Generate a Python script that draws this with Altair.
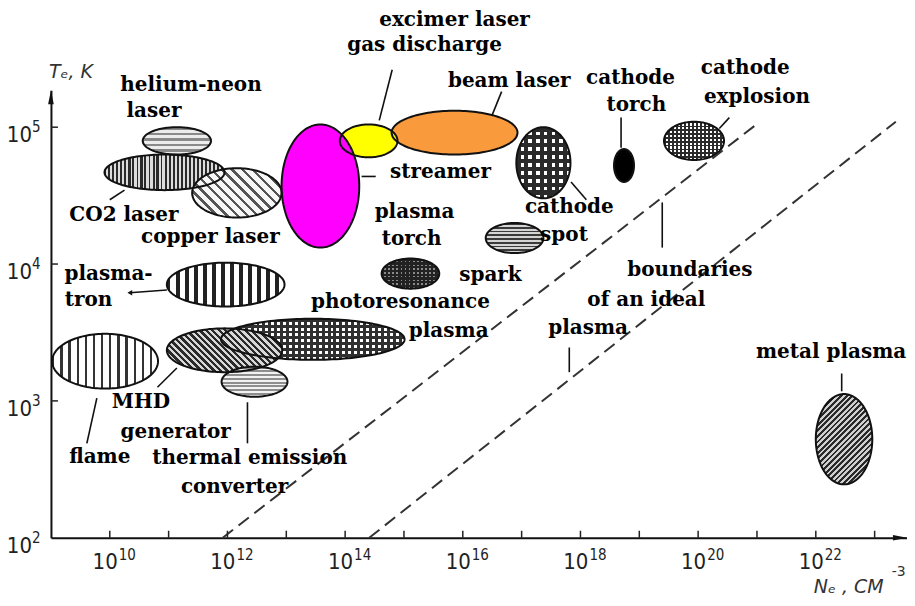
import altair as alt
import pandas as pd

# ---------------- data (log10 units) ----------------
ell_names = ["photoresonance", "MHD", "thermal emission", "flame", "plasmatron",
             "helium-neon", "CO2 laser", "copper laser", "beam laser", "excimer laser",
             "gas discharge", "cathode spot", "cathode torch", "cathode explosion",
             "spark", "plasma torch", "metal plasma"]
ell_cx = [13.45, 11.95, 12.46, 9.92, 11.97, 11.14, 10.93, 12.16, 15.86, 14.40,
          13.58, 17.37, 18.74, 19.93, 16.88, 15.11, 22.48]
ell_cy = [3.45, 3.37, 3.14, 3.29, 3.85, 4.90, 4.67, 4.52, 4.96, 4.90,
          4.57, 4.74, 4.72, 4.90, 4.19, 3.93, 2.72]
ell_rx = [1.56, 0.98, 0.56, 0.90, 1.00, 0.58, 1.02, 0.76, 1.07, 0.49,
          0.66, 0.46, 0.17, 0.51, 0.49, 0.49, 0.48]
ell_ry = [0.15, 0.16, 0.11, 0.20, 0.16, 0.10, 0.13, 0.18, 0.16, 0.12,
          0.45, 0.26, 0.12, 0.14, 0.11, 0.11, 0.33]

label_text = ["excimer laser", "gas discharge", "beam laser", "cathode", "torch",
              "cathode", "explosion", "helium-neon", "laser", "streamer",
              "CO2 laser", "copper laser", "plasma", "torch", "cathode", "spot",
              "plasma-", "tron", "spark", "boundaries", "of an ideal", "plasma",
              "photoresonance", "plasma", "metal plasma", "MHD", "generator",
              "flame", "thermal emission", "converter"]
label_x = [15.86, 15.35, 16.79, 18.85, 18.95, 20.80, 21.00, 11.38, 10.75, 15.62,
           10.24, 11.71, 15.18, 15.13, 17.81, 17.72, 9.98, 9.64, 16.47, 19.86,
           19.12, 18.13, 14.94, 15.76, 22.26, 10.53, 11.12, 9.83, 12.38, 12.12]
label_y = [5.78, 5.60, 5.34, 5.36, 5.16, 5.43, 5.22, 5.31, 5.12, 4.67,
           4.36, 4.20, 4.38, 4.18, 4.42, 4.21, 3.93, 3.74, 3.92, 3.96,
           3.74, 3.53, 3.72, 3.51, 3.36, 2.99, 2.77, 2.59, 2.58, 2.37]

lead_x1 = [14.80, 16.66, 18.69, 20.53, 10.00, 14.28, 17.84, 19.39, 17.81, 22.44, 10.97, 10.81, 9.61, 12.34]
lead_y1 = [5.42, 5.26, 5.07, 5.07, 4.47, 4.64, 4.60, 4.45, 3.39, 3.20, 3.81, 3.10, 2.69, 2.99]
lead_x2 = [14.58, 16.50, 18.69, 20.36, 10.25, 14.52, 18.10, 19.39, 17.81, 22.44, 10.34, 11.14, 9.78, 12.34]
lead_y2 = [5.05, 5.09, 4.85, 4.99, 4.54, 4.64, 4.47, 4.12, 3.21, 3.07, 3.79, 3.24, 3.02, 2.69]

bnd_x1 = [11.92, 14.41]
bnd_y1 = [2.0, 2.0]
bnd_x2 = [21.02, 23.36]
bnd_y2 = [5.03, 5.04]

x_ticks = list(range(10, 24))
x_label_pos = [10, 12, 14, 16, 18, 20, 22]
x_label_exp = ["10", "12", "14", "16", "18", "20", "22"]
y_ticks = [3, 4, 5]
y_label_pos = [2, 3, 4, 5]
y_label_exp = ["2", "3", "4", "5"]

# ---------------- layout ----------------
XMIN, XMAX, YMIN, YMAX = 9.0, 23.55, 2.0, 5.27
W, H = 857, 448
PXX = W / (XMAX - XMIN)
PXY = H / (YMAX - YMIN)

xs = alt.Scale(domain=[XMIN, XMAX], nice=False, zero=False)
ys = alt.Scale(domain=[YMIN, YMAX], nice=False, zero=False)
xa = alt.Axis(labels=False, ticks=False, grid=False, title="", domainColor="#111", domainWidth=2)
ya = alt.Axis(labels=False, ticks=False, grid=False, title="", domainColor="#111", domainWidth=2)


def X(f):
    return alt.X(f, type="quantitative", scale=xs, axis=xa)


def Y(f):
    return alt.Y(f, type="quantitative", scale=ys, axis=ya)


def grad(name, kind, c1, c2, period, duty):
    i = ell_names.index(name)
    w = 2 * ell_rx[i] * PXX
    h = 2 * ell_ry[i] * PXY
    if kind == "v":
        d, ext = (1.0, 0.0), w
    elif kind == "h":
        d, ext = (0.0, 1.0), h
    elif kind == "/":
        d, ext = (1 / h, 1 / w), ((w * w + h * h) / 2) ** 0.5
    else:
        d, ext = (-1 / h, 1 / w), ((w * w + h * h) / 2) ** 0.5
    n = max(2, int(round(ext / period)))
    nrm = (d[0] ** 2 + d[1] ** 2) ** 0.5
    dx, dy = d[0] / nrm, d[1] / nrm
    stops = []
    for k in range(n):
        a, b, c = k / n, (k + duty) / n, (k + 1) / n
        stops += [{"offset": round(a, 4), "color": c1}, {"offset": round(b, 4), "color": c1},
                  {"offset": round(b, 4), "color": c2}, {"offset": round(c, 4), "color": c2}]
    return {"gradient": "linear", "stops": stops,
            "x1": 0.5 - dx / 2, "y1": 0.5 - dy / 2, "x2": 0.5 + dx / 2, "y2": 0.5 + dy / 2}


T = "rgba(0,0,0,0)"
fills = {
    "photoresonance": [("v", "#303030", "#ffffff", 6, 0.5), ("h", "#303030", T, 6, 0.5)],
    "MHD": [("\\", "#2a2a2a", "#d8d8d8", 4.5, 0.5)],
    "thermal emission": [("h", "#8e8e8e", "#f2f2f2", 4, 0.5)],
    "flame": [("v", "#333333", "#ffffff", 8, 0.28)],
    "plasmatron": [("v", "#222222", "#ffffff", 9, 0.4)],
    "helium-neon": [("h", "#8a8a8a", "#ececec", 5, 0.5)],
    "CO2 laser": [("v", "#2a2a2a", "#dcdcdc", 4, 0.5)],
    "copper laser": [("\\", "#555555", "#f7f7f7", 7, 0.35)],
    "beam laser": "#f99a3c",
    "excimer laser": "#ffff00",
    "gas discharge": "#ff00ff",
    "cathode spot": [("v", "#2a2a2a", "#ffffff", 8, 0.55), ("h", "#2a2a2a", T, 8, 0.55)],
    "cathode torch": "#000000",
    "cathode explosion": [("v", "#2a2a2a", "#ffffff", 4, 0.45), ("h", "#2a2a2a", T, 4, 0.45)],
    "spark": [("h", "#3a3a3a", "#d4d4d4", 4, 0.5)],
    "plasma torch": [("v", "#222222", "#8a8a8a", 4, 0.6), ("h", "#222222", T, 4, 0.6)],
    "metal plasma": [("/", "#2a2a2a", "#cfcfcf", 4, 0.5)],
}

ell_df = pd.DataFrame({"name": ell_names, "cx": ell_cx, "cy": ell_cy, "rx": ell_rx, "ry": ell_ry})
ell_base = (alt.Chart(ell_df)
            .transform_calculate(k="sequence(0, 73)")
            .transform_flatten(["k"])
            .transform_calculate(t="PI * datum.k / 72")
            .transform_calculate(ex="datum.cx + datum.rx * cos(datum.t)",
                                 ey1="datum.cy + datum.ry * sin(datum.t)",
                                 ey2="datum.cy - datum.ry * sin(datum.t)"))

layers = []
for name in ell_names:
    spec = fills[name]
    specs = [spec] if isinstance(spec, str) else spec
    for s in specs:
        fill = s if isinstance(s, str) else grad(name, *s)
        layers.append(ell_base.transform_filter(alt.datum.name == name)
                      .mark_area(fill=fill, strokeWidth=0, opacity=1)
                      .encode(x=X("ex"), y=Y("ey1"), y2=alt.Y2("ey2")))

# outlines on top
layers.append(ell_base.mark_area(fillOpacity=0, stroke="#111", strokeWidth=2)
              .encode(x=X("ex"), y=Y("ey1"), y2=alt.Y2("ey2"), detail="name:N"))

# boundaries of an ideal plasma
bnd_df = pd.DataFrame({"x1": bnd_x1, "y1": bnd_y1, "x2": bnd_x2, "y2": bnd_y2})
layers.append(alt.Chart(bnd_df).mark_rule(color="#333", strokeWidth=2, strokeDash=[13, 7])
              .encode(x=X("x1"), y=Y("y1"), x2="x2", y2="y2"))

# leader lines
lead_df = pd.DataFrame({"x1": lead_x1, "y1": lead_y1, "x2": lead_x2, "y2": lead_y2})
layers.append(alt.Chart(lead_df).mark_rule(color="#111", strokeWidth=1.6)
              .encode(x=X("x1"), y=Y("y1"), x2="x2", y2="y2"))
arrow_df = pd.DataFrame({"x": [lead_x2[10]], "y": [lead_y2[10]]})
layers.append(alt.Chart(arrow_df).mark_point(shape="triangle-left", filled=True, size=30, color="#111", opacity=1)
              .encode(x=X("x"), y=Y("y")))

# labels
lab_df = pd.DataFrame({"t": label_text, "x": label_x, "y": label_y})
layers.append(alt.Chart(lab_df).mark_text(font="DejaVu Serif", fontWeight="bold", fontSize=20,
                                           align="center", baseline="middle", color="#000")
              .encode(x=X("x"), y=Y("y"), text="t:N"))

# axis arrows
ax_arrow = pd.DataFrame({"x": [XMAX - 7 / PXX], "y": [YMIN]})
layers.append(alt.Chart(ax_arrow).mark_point(shape="M 1 0 L -1 -0.4 L -1 0.4 Z", filled=True, size=200,
                                             color="#111", opacity=1)
              .encode(x=X("x"), y=Y("y")))
ay_arrow = pd.DataFrame({"x": [XMIN], "y": [YMAX - 7 / PXY]})
layers.append(alt.Chart(ay_arrow).mark_point(shape="M 0 -1 L -0.4 1 L 0.4 1 Z", filled=True, size=200,
                                             color="#111", opacity=1)
              .encode(x=X("x"), y=Y("y")))

# ticks
xt_df = pd.DataFrame({"v": x_ticks})
layers.append(alt.Chart(xt_df).mark_rule(color="#222", strokeWidth=1.5)
              .encode(x=X("v"), y=alt.value(H), y2=alt.value(H - 7)))
yt_df = pd.DataFrame({"v": y_ticks})
layers.append(alt.Chart(yt_df).mark_rule(color="#222", strokeWidth=1.5)
              .encode(y=Y("v"), x=alt.value(0), x2=alt.value(7)))

TICKFONT = "Liberation Sans Narrow, DejaVu Sans Condensed, Liberation Sans"
xl_df = pd.DataFrame({"v": x_label_pos, "e": x_label_exp, "b": ["10"] * len(x_label_pos), "y": [YMIN] * len(x_label_pos)})
layers.append(alt.Chart(xl_df).mark_text(font=TICKFONT, fontSize=22, align="right", baseline="middle",
                                          dx=8, dy=24, color="#222")
              .encode(x=X("v"), y=Y("y"), text="b:N"))
layers.append(alt.Chart(xl_df).mark_text(font=TICKFONT, fontSize=15, align="left", baseline="middle",
                                          dx=9, dy=17, color="#222")
              .encode(x=X("v"), y=Y("y"), text="e:N"))
yl_df = pd.DataFrame({"v": y_label_pos, "e": y_label_exp, "b": ["10"] * len(y_label_pos), "x": [XMIN] * len(y_label_pos)})
layers.append(alt.Chart(yl_df).mark_text(font=TICKFONT, fontSize=22, align="right", baseline="middle",
                                          dx=-19, dy=8, color="#222")
              .encode(x=X("x"), y=Y("v"), text="b:N"))
layers.append(alt.Chart(yl_df).mark_text(font=TICKFONT, fontSize=15, align="left", baseline="middle",
                                          dx=-19, dy=0, color="#222")
              .encode(x=X("x"), y=Y("v"), text="e:N"))

# axis titles
ttl_df = pd.DataFrame({"t": ["Tₑ, K", "Nₑ , CM"], "x": [9.34, 22.56], "y": [5.40, 1.64]})
layers.append(alt.Chart(ttl_df).mark_text(font="DejaVu Sans", fontStyle="italic", fontSize=19,
                                           align="center", baseline="middle", color="#333")
              .encode(x=X("x"), y=Y("y"), text="t:N"))
exp_df = pd.DataFrame({"t": ["-3"], "x": [23.41], "y": [1.75]})
layers.append(alt.Chart(exp_df).mark_text(font="DejaVu Sans", fontSize=14, align="center",
                                           baseline="middle", color="#333")
              .encode(x=X("x"), y=Y("y"), text="t:N"))

chart = (alt.layer(*layers)
         .properties(width=W, height=H,
                     autosize=alt.AutoSizeParams(type="none"),
                     padding={"left": 43, "top": 82, "right": 0, "bottom": 60},
                     background="white")
         .configure_view(stroke=None))

chart.save("out.html", embed_options={"renderer": "svg", "actions": False})
